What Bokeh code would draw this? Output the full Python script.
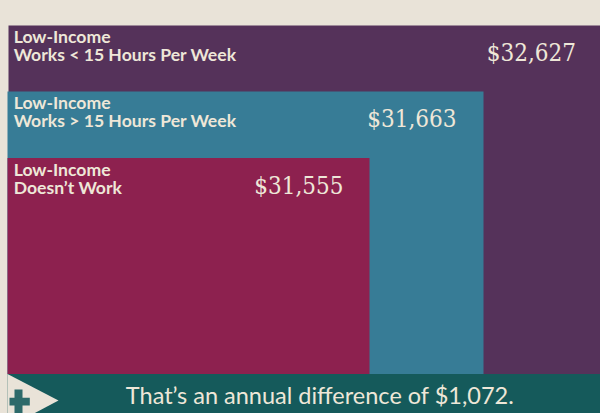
from bokeh.plotting import figure
from bokeh.models import Range1d, ColumnDataSource
from bokeh.core.properties import value
from bokeh.embed import file_html
from bokeh.resources import INLINE

# ---- data ----
group_line1 = ["Low-Income", "Low-Income", "Low-Income"]
group_line2 = ["Works < 15 Hours Per Week", "Works > 15 Hours Per Week", "Doesn\u2019t Work"]
incomes = [32627, 31663, 31555]
income_labels = ["$32,627", "$31,663", "$31,555"]

difference = max(incomes) - min(incomes)
footer_text = "That\u2019s an annual difference of ${:,}.".format(difference)

# ---- style / layout ----
W, H = 600, 413
BG = "#E9E3D8"
CREAM = "#EEE7D8"
colors = ["#55325A", "#377C96", "#8D214F"]
BAND = "#155A5B"
PLUS = "#2D6A6A"

lefts = [8, 7, 7]
rights = [W + 2, 483, 369]
tops = [25, 91, 157.6]
bottom = 373.5

p = figure(width=W, height=H, output_backend="svg", toolbar_location=None,
           x_range=Range1d(0, W), y_range=Range1d(H, 0),
           min_border=0, background_fill_color=BG, border_fill_color=BG,
           outline_line_color=None)
p.axis.visible = False
p.grid.visible = False

src = ColumnDataSource(dict(
    left=lefts, right=rights, top=tops, bottom=[bottom] * 3, color=colors,
    l1=group_line1, l2=group_line2, val=income_labels,
    tx=[13.2] * 3,
    y1=[t + 11.4 for t in tops], y2=[t + 29.2 for t in tops],
    vx=[575.5, 456, 343], vy=[t + 27.4 for t in tops],
))

p.quad(left="left", right="right", top="top", bottom="bottom",
       fill_color="color", line_color=None, source=src)

label_font = value("Lato")
for col_y, col_t in (("y1", "l1"), ("y2", "l2")):
    p.text(x="tx", y=col_y, text=col_t, source=src, text_font=label_font,
           text_font_style="bold", text_font_size="17.6px", text_color=CREAM,
           text_baseline="alphabetic", text_align="left")
p.text(x="vx", y="vy", text="val", source=src, text_font=value("DejaVu Serif Condensed"),
       text_font_size="24px", text_color=CREAM,
       text_baseline="alphabetic", text_align="right")

# footer band
p.quad(left=[7], right=[W + 2], top=[bottom], bottom=[H + 2],
       fill_color=BAND, line_color=None)
p.patch(x=[7, 58, 7], y=[bottom, 400, 427], fill_color=BG, line_color=None)
p.quad(left=[14, 9], right=[22, 29.3], top=[389, 397.3], bottom=[H + 2, 405],
       fill_color=PLUS, line_color=None)
p.text(x=[319.5], y=[394.3], text=[footer_text], text_font=value("Lato"),
       text_font_size="23.5px", text_color=CREAM, text_baseline="alphabetic",
       text_align="center")

html = file_html(p, INLINE)
html = html.replace("</head>", "<style>html,body{background:%s;}</style></head>" % BG, 1)
open("out.html", "w").write(html)
